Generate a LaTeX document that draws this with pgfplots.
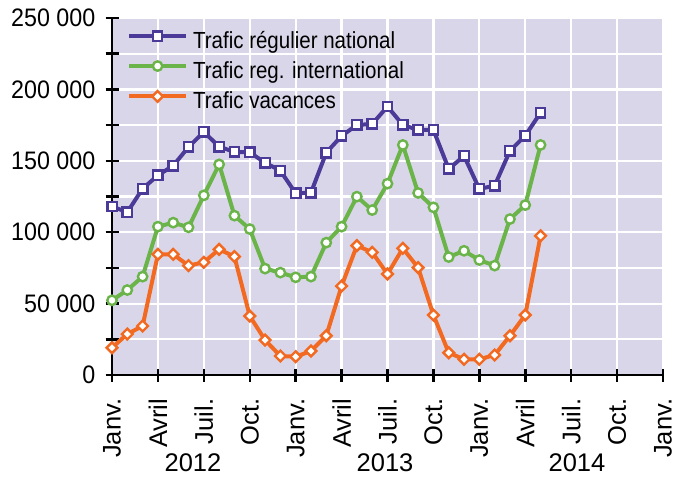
\documentclass[border=0pt]{standalone}
\usepackage{pgfplots}
\pgfplotsset{compat=1.18}
\usepackage{fontspec}
\setmainfont{Liberation Sans}
\newfontfamily\ylabfont[FakeStretch=0.92]{Liberation Sans}
\newfontfamily\legfont[FakeStretch=0.88]{Liberation Sans}
\definecolor{bgc}{HTML}{DAD6E9}
\definecolor{cblue}{HTML}{4B3A97}
\definecolor{cgreen}{HTML}{6BB44A}
\definecolor{corange}{HTML}{F26A22}
\begin{document}
\begin{tikzpicture}
\begin{axis}[
  set layers,
  scale only axis, width=551pt, height=357pt,
  xmin=0, xmax=36, ymin=0, ymax=250000,
  axis lines*=left,
  axis background/.style={fill=bgc},
  clip=false,
  scaled y ticks=false,
  xtick={0,3,...,36},
  xticklabels={Janv.,Avril,Juil.,Oct.,Janv.,Avril,Juil.,Oct.,Janv.,Avril,Juil.,Oct.,Janv.},
  ytick={0,50000,...,250000},
  yticklabels={0,50 000,100 000,150 000,200 000,250 000},
  minor ytick={25000,75000,...,225000},
  grid=both,
  major grid style={white, line width=2.2pt},
  minor grid style={white, line width=2.2pt},
  axis line style={black, line width=2.7pt},
  every tick/.style={black, line width=2.5pt},
  major tick length=13pt, minor tick length=13pt,
  tick align=center,
  xticklabel style={rotate=90, anchor=east, inner sep=0pt, xshift=-17pt,
    font=\fontsize{25.5}{26}\selectfont},
  yticklabel style={anchor=east, inner sep=0pt, xshift=-10pt,
    font=\ylabfont\fontsize{25.3}{26}\selectfont},
  legend style={at={(0.027,0.964)}, anchor=north west, draw=none, fill=none,
    inner sep=0pt, row sep=8pt, column sep=0pt,
    font=\legfont\fontsize{23.3}{24}\selectfont,
    nodes={inner sep=0pt, text height=17pt, text depth=5pt}},
  legend cell align=left,
  legend image code/.code={\draw[mark repeat=2,mark phase=2,#1] plot coordinates {(0pt,6pt) (28.5pt,6pt) (57pt,6pt)};\path (62pt,0pt);},
]
\addplot[cblue, line width=4pt, mark=square*, mark size=4.7pt,
  mark options={fill=white, draw=cblue, line width=2.4pt, solid}]
  coordinates {(0,118000)(1,114000)(2,130500)(3,139800)(4,146600)(5,159700)(6,170200)(7,159900)(8,156200)(9,155900)(10,148700)(11,143100)(12,127200)(13,127700)(14,155700)(15,167400)(16,175100)(17,175800)(18,188000)(19,175100)(20,171600)(21,171600)(22,144300)(23,153400)(24,130300)(25,132600)(26,156900)(27,167600)(28,183700)};
\addlegendentry{Trafic régulier national}
\addplot[cgreen, line width=4pt, mark=*, mark size=4.7pt,
  mark options={fill=white, draw=cgreen, line width=2.4pt, solid}]
  coordinates {(0,52300)(1,59500)(2,68900)(3,103900)(4,106700)(5,103400)(6,125800)(7,147500)(8,111600)(9,102200)(10,74500)(11,71700)(12,68400)(13,68900)(14,92700)(15,103900)(16,124900)(17,115500)(18,134000)(19,161100)(20,127500)(21,117400)(22,82600)(23,87000)(24,80500)(25,76600)(26,109200)(27,119000)(28,161100)};
\addlegendentry{Trafic reg. international}
\addplot[corange, line width=4pt, mark=square*, mark size=3.8pt,
  mark options={fill=white, draw=corange, line width=2.4pt, solid, rotate=45}]
  coordinates {(0,19100)(1,28700)(2,34300)(3,84500)(4,84500)(5,76600)(6,78900)(7,88000)(8,82900)(9,41300)(10,24500)(11,13300)(12,12800)(13,16800)(14,27500)(15,62300)(16,90600)(17,85900)(18,70700)(19,88700)(20,75200)(21,42000)(22,15600)(23,11000)(24,11000)(25,14000)(26,27500)(27,42000)(28,97500)};
\addlegendentry{Trafic vacances}
\node[anchor=north, inner sep=0pt, yshift=-78pt, font=\fontsize{25.5}{26}\selectfont] at (axis cs:5.29,0) {2012};
\node[anchor=north, inner sep=0pt, yshift=-78pt, font=\fontsize{25.5}{26}\selectfont] at (axis cs:17.84,0) {2013};
\node[anchor=north, inner sep=0pt, yshift=-78pt, font=\fontsize{25.5}{26}\selectfont] at (axis cs:30.38,0) {2014};
\end{axis}
\pgfresetboundingbox
\path[use as bounding box] (-112pt,-102pt) rectangle (572pt,375pt);
\end{tikzpicture}
\end{document}
